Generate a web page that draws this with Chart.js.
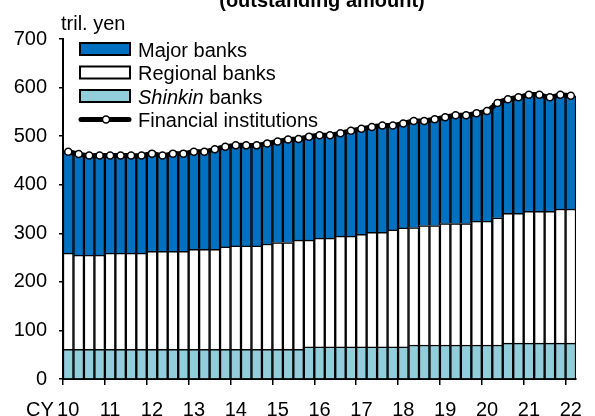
<!DOCTYPE html>
<html>
<head>
<meta charset="utf-8">
<script src="https://cdn.jsdelivr.net/npm/chart.js@4.4.0/dist/chart.umd.min.js"></script>
<style>
  html, body { margin: 0; padding: 0; background: #fff; }
  #wrap { width: 595px; height: 416px; position: relative; overflow: hidden; }
</style>
</head>
<body>
<div id="wrap"><canvas id="grafica" width="595" height="416"></canvas></div>
<script>
// year tick labels (calendar year, 2 digits), 4 quarters each, last one only Q1
var yearLabels = ['10','11','12','13','14','15','16','17','18','19','20','21','22'];
var quarterNames = ['Q1','Q2','Q3','Q4'];

// tril. yen, quarterly 2010Q1 - 2022Q1
var shinkin = [61,61,61,61,61,61,61,61,61,61,61,61,61,61,61,61,61,61,61,61,61,61,61,
               66,66,66,66,66,66,66,66,66,66,
               70,70,70,70,70,70,70,70,70,
               74,74,74,74,74,74,74];
var regional = [198,194,194,194,198,198,198,198,202,202,202,202,206,206,206,211,213,213,213,217,220,220,225,
                220,224,224,228,228,232,236,236,241,245,
                242,246,246,250,250,250,255,255,262,
                267,267,271,271,271,276,276];
var major = [209,208,205,205,201,201,201,201,201,197,201,201,201,201,206,206,207,207,207,207,208,212,208,
             213,212,212,212,217,217,217,220,215,215,
             219,215,219,219,223,223,222,227,236,
             235,239,240,240,235,235,233];
var financial = [468,463,460,460,460,460,460,460,464,460,464,464,468,468,473,478,481,481,481,485,489,493,494,
                 499,502,502,506,511,515,519,522,522,526,
                 531,531,535,539,543,543,547,552,568,
                 576,580,585,585,580,585,583];

var categories = [];
yearLabels.forEach(function(y, i){
  var n = (i === yearLabels.length - 1) ? 1 : 4;
  for (var q = 0; q < n; q++) categories.push('20' + y + quarterNames[q]);
});

var FONT = '"Liberation Sans", Arial, sans-serif';
var BLUE = '#0070C0';
var LIGHT = '#92CDDC';

// texts around the plot + legend in the upper left
var extras = {
  id: 'extras',
  afterDraw: function(chart){
    var ctx = chart.ctx;
    ctx.save();
    ctx.fillStyle = '#000';
    ctx.textBaseline = 'alphabetic';

    // title, cut off by the top edge
    ctx.font = 'bold 20px ' + FONT;
    ctx.textAlign = 'center';
    ctx.fillText('(outstanding amount)', 322, 7);

    ctx.font = '20px ' + FONT;
    ctx.textAlign = 'left';
    ctx.fillText('tril. yen', 61, 30);
    ctx.fillText('CY', 26, 416);

    // legend
    var x0 = 80, w = 50, tx = 138;
    var rows = [49, 72.5, 96, 119.5];
    var fills = [BLUE, '#fff', LIGHT];
    for (var i = 0; i < 3; i++) {
      ctx.fillStyle = fills[i];
      ctx.fillRect(x0, rows[i] - 6, w, 12);
      ctx.lineWidth = 2;
      ctx.strokeStyle = '#000';
      ctx.strokeRect(x0, rows[i] - 6, w, 12);
    }
    ctx.beginPath();
    ctx.lineCap = 'round';
    ctx.lineWidth = 5;
    ctx.moveTo(x0 + 1, rows[3]);
    ctx.lineTo(x0 + w - 1, rows[3]);
    ctx.stroke();
    ctx.beginPath();
    ctx.arc(x0 + w / 2 + 1, rows[3], 3.5, 0, Math.PI * 2);
    ctx.fillStyle = '#fff';
    ctx.fill();
    ctx.lineWidth = 1.5;
    ctx.stroke();

    ctx.fillStyle = '#000';
    ctx.font = '20px ' + FONT;
    ctx.fillText('Major banks', tx, rows[0] + 7.5);
    ctx.fillText('Regional banks', tx, rows[1] + 7.5);
    ctx.font = 'italic 20px ' + FONT;
    ctx.fillText('Shinkin', tx, rows[2] + 7.5);
    var sw = ctx.measureText('Shinkin').width;
    ctx.font = '20px ' + FONT;
    ctx.fillText(' banks', tx + sw, rows[2] + 7.5);
    ctx.fillText('Financial institutions', tx, rows[3] + 7.5);
    ctx.restore();
  }
};

function barSet(label, data, color){
  return {
    type: 'bar',
    label: label,
    data: data,
    backgroundColor: color,
    borderColor: '#000',
    borderWidth: 1.5,
    barPercentage: 1,
    categoryPercentage: 1,
    stack: 'banks',
    order: 1
  };
}

new Chart(document.getElementById('grafica'), {
  data: {
    labels: categories,
    datasets: [
      {
        type: 'line',
        label: 'Financial institutions',
        data: financial,
        borderColor: '#000',
        borderWidth: 5,
        tension: 0.3,
        pointRadius: 3.5,
        pointBackgroundColor: '#fff',
        pointBorderColor: '#000',
        pointBorderWidth: 1.5,
        stack: 'fi',
        order: 0
      },
      barSet('Shinkin banks', shinkin, LIGHT),
      barSet('Regional banks', regional, '#fff'),
      barSet('Major banks', major, BLUE)
    ]
  },
  options: {
    responsive: false,
    animation: false,
    layout: { padding: { top: 39, right: 7, left: 0, bottom: 0 } },
    plugins: {
      legend: { display: false },
      tooltip: { enabled: false }
    },
    scales: {
      x: {
        stacked: true,
        offset: true,
        border: { display: true, color: '#000', width: 2 },
        grid: {
          offset: true,
          drawOnChartArea: false,
          tickLength: 6,
          lineWidth: 1.5,
          color: function(c){ return (c.index !== undefined && c.index % 4 === 0) ? '#000' : 'rgba(0,0,0,0)'; }
        },
        ticks: {
          autoSkip: false,
          maxRotation: 0,
          minRotation: 0,
          padding: 13,
          color: '#000',
          font: { family: FONT, size: 20 },
          callback: function(v, i){ return i % 4 === 0 ? yearLabels[i / 4] : ''; }
        },
        afterFit: function(s){ s.height = 37; }
      },
      y: {
        stacked: true,
        min: 0,
        max: 700,
        border: { display: true, color: '#000', width: 2 },
        grid: { drawOnChartArea: false, tickLength: 4, lineWidth: 1.5, color: '#000' },
        ticks: {
          stepSize: 100,
          padding: 12,
          color: '#000',
          font: { family: FONT, size: 20 }
        },
        afterFit: function(s){ s.width = 63; }
      }
    }
  },
  plugins: [extras]
});
</script>
</body>
</html>
